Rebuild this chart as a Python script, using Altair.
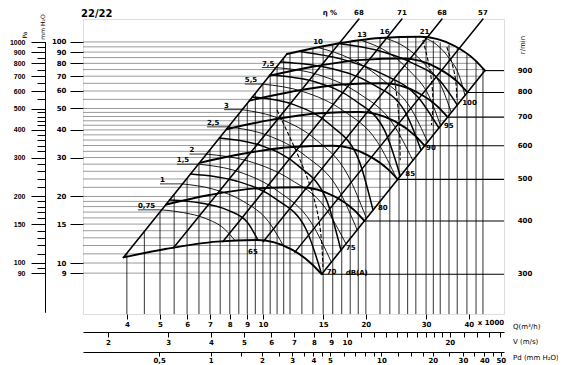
import json
import altair as alt
import numpy as np
import pandas as pd

FONT = "DejaVu Sans"

# ---------------- values ----------------
Q_DOMAIN = [2.977, 50.7]      # Q (x 1000 m3/h) at the plot frame
P_DOMAIN = [5.88, 127.0]      # static pressure mm H2O at the plot frame
PA_DOMAIN = [60.0, 1000.0]    # Pa scale (outer left axis)
V_DOMAIN = [1.69, 28.8]       # outlet velocity m/s
PD_DOMAIN = [0.179, 52.2]     # dynamic pressure mm H2O

P_LABELS = [9, 10, 15, 20, 30, 40, 50, 60, 70, 80, 90, 100]
P_GRID = [9, 10, 11, 12, 13, 14, 15, 16, 17, 18, 19, 20, 22, 24, 26, 28, 30, 32, 34,
          36, 38, 40, 42, 44, 46, 48, 50, 55, 60, 65, 70, 75, 80, 85, 90, 95, 100]
Q_LABELS = [4, 5, 6, 7, 8, 9, 10, 15, 20, 30, 40]
Q_GRID = [4, 4.5, 5, 5.5, 6, 6.5, 7, 7.5, 8, 8.5, 9, 9.5, 10, 10.5, 11, 11.5, 12, 13, 14,
          15, 16, 17, 18, 19, 20, 22, 23.5, 25, 26.5, 28, 30, 31.5, 33, 35, 37, 39.5, 42, 44]
PA_LABELS = [90, 100, 150, 200, 300, 400, 500, 600, 700, 800, 900, 1000]
PA_MINOR = [95, 110, 120, 130, 140, 160, 170, 180, 190, 220, 240, 260, 280, 320, 340, 360,
            380, 420, 440, 460, 480, 550, 650, 750, 850, 950]
V_LABELS = [2, 3, 4, 5, 6, 7, 8, 9, 10, 20]
V_MINOR = [11, 12, 13, 14, 15, 16, 17, 18, 19, 22, 24, 26, 28]
PD_LABELS = [0.5, 1, 2, 3, 4, 5, 10, 20, 30, 40, 50]
PD_MINOR = [1.5, 2.5, 3.5, 4.5, 6, 7, 8, 9, 12.5, 15, 17.5, 25, 35, 45]

# fan speed curves (r/min)
RPM = [300, 400, 500, 600, 700, 800, 900]
SPEED_Q = [
    [3.91, 5.23, 7.33, 9.59, 12.16, 13.89, 14.85],
    [5.22, 6.97, 9.77, 12.79, 16.21, 18.52, 19.8],
    [6.53, 8.73, 12.23, 16.01, 20.29, 23.19, 24.8],
    [7.83, 10.47, 14.67, 19.2, 24.34, 27.8, 29.74],
    [9.14, 12.21, 17.12, 22.41, 28.4, 32.44, 34.7],
    [10.45, 13.96, 19.56, 25.6, 32.45, 37.07, 39.65],
    [11.75, 15.7, 22.0, 28.8, 36.5, 41.7, 44.6],
]
SPEED_P = [
    [10.6, 11.6, 12.5, 12.7, 11.5, 9.9, 8.9],
    [18.4, 20.3, 21.8, 22.0, 20.0, 17.3, 15.5],
    [28.4, 31.2, 33.5, 33.9, 30.7, 26.6, 23.9],
    [40.3, 44.3, 47.6, 48.2, 43.7, 37.8, 33.9],
    [54.3, 59.7, 64.2, 65.0, 58.9, 51.0, 45.7],
    [70.3, 77.2, 83.0, 84.1, 76.2, 66.0, 59.1],
    [88.2, 96.9, 104.2, 105.5, 95.6, 82.8, 74.2],
]

# efficiency lines (eta %)
EFF_LABELS = ["68", "71", "68", "57"]
EFF_Q_TOP = [19.09, 25.5, 33.4, 44.0]
EFF_Q_BOT = [5.47, 7.64, 10.03, 12.4]
EFF_P_BOT = [11.7, 12.5, 12.5, 11.2]
ETA_Q = 15.7

# absorbed power curves (kW)
POWER_LABELS = ["0,75", "1", "1,5", "2", "2,5", "3", "5,5", "7,5", "10", "13", "16", "21"]
POWER_Q = [
    [5.06, 5.86, 6.80, 7.70, 8.3],
    [5.81, 7.14, 8.76, 10.38, 11.5],
    [6.47, 8.47, 11.08, 13.86, 15.85],
    [6.83, 9.07, 12.02, 15.2, 17.5],
    [7.9, 10.27, 13.33, 16.57, 18.87],
    [8.68, 11.17, 14.36, 17.71, 20.08],
    [9.96, 13.11, 17.2, 21.56, 24.7],
    [10.9, 14.43, 19.01, 23.91, 27.45],
    [14.5, 18.07, 22.55, 27.13, 30.3],
    [19.5, 22.86, 26.8, 30.6, 33.1],
    [22.7, 26.0, 29.72, 33.24, 35.55],
    [29.7, 32.27, 35.0, 37.45, 39.0],
]
POWER_P = [
    [17.4, 16.9, 15.9, 14.3, 12.6],
    [22.8, 21.6, 19.0, 15.4, 11.9],
    [28.0, 25.9, 21.1, 15.2, 10.1],
    [31.1, 28.9, 23.9, 17.8, 12.2],
    [41.3, 37.9, 30.5, 21.7, 14.1],
    [49.4, 45.0, 35.9, 25.0, 15.9],
    [64.5, 59.6, 48.8, 35.5, 23.8],
    [76.6, 71.3, 58.7, 43.0, 29.1],
    [94.3, 83.8, 66.9, 49.8, 35.3],
    [101.3, 91.1, 74.2, 56.9, 41.7],
    [104.3, 95.0, 79.4, 63.0, 48.0],
    [104.3, 97.0, 84.6, 70.7, 57.3],
]
POWER_TAG_Q = [4.31, 5.0, 5.6, 6.1, 6.86, 7.7, 8.85, 9.93]   # left-hand label leaders

# sound level curves dB(A)
DB_LABELS = ["65", "70", "75", "80", "85", "90", "95", "100"]
DB_Q = [
    [5.33, 6.57, 7.85, 9.0, 9.67],
    [6.14, 8.36, 10.9, 13.36, 14.85],
    [7.46, 9.93, 12.7, 15.32, 16.9],
    [9.31, 12.37, 15.8, 19.03, 20.98],
    [10.49, 14.26, 18.55, 22.7, 25.23],
    [11.26, 15.68, 20.84, 25.91, 29.0],
    [12.83, 16.99, 22.49, 28.43, 32.7],
    [16.8, 21.29, 26.98, 32.89, 37.0],
]
DB_P = [
    [19.3, 18.7, 17.4, 15.3, 12.7],
    [25.3, 23.5, 19.5, 14.25, 8.9],
    [36.8, 33.9, 27.5, 19.4, 11.45],
    [56.4, 51.9, 42.0, 29.5, 17.4],
    [70.9, 65.9, 54.5, 39.7, 24.7],
    [81.2, 76.1, 64.6, 49.0, 32.4],
    [90.6, 83.6, 71.3, 56.2, 40.8],
    [98.2, 92.1, 81.0, 66.9, 51.9],
]

# dashed companion curves near the right-hand side
DASH_Q = [
    [10.99, 13.45, 14.68, 14.98],
    [24.3, 25.0, 25.2],
    [29.37, 30.78, 31.41, 31.1],
    [34.5, 36.4, 36.9],
]
DASH_P = [
    [49.2, 24.5, 14.55, 9.59],
    [67.3, 44.4, 29.2],
    [102.1, 74.7, 54.6, 42.1],
    [94.9, 70.9, 54.6],
]

# ---------------- helpers ----------------
def sx():
    return alt.Scale(type="log", domain=Q_DOMAIN, nice=False)


def sy():
    return alt.Scale(type="log", domain=P_DOMAIN, nice=False)


def curves(names, qs, ps):
    rows = []
    for n, ql, pl in zip(names, qs, ps):
        for i, (q, p) in enumerate(zip(ql, pl)):
            rows.append({"id": n, "Q": q, "P": p, "o": i})
    return pd.DataFrame(rows)


def line_layer(df, width, interp="monotone", dash=None):
    kw = dict(color="black", strokeWidth=width, interpolate=interp, strokeCap="round")
    if dash:
        kw["strokeDash"] = dash
        kw["strokeCap"] = "butt"
    return alt.Chart(df).mark_line(**kw).encode(
        x=alt.X("Q:Q", scale=sx(), axis=None),
        y=alt.Y("P:Q", scale=sy(), axis=None),
        detail="id:N",
        order="o:Q",
    )


def text_layer(df, size=7, weight="bold", font=FONT, **kw):
    return alt.Chart(df).mark_text(font=font, fontSize=size, fontWeight=weight,
                                   color="black", **kw).encode(
        x=alt.X("Q:Q", scale=sx(), axis=None),
        y=alt.Y("P:Q", scale=sy(), axis=None),
        text="t:N",
    )


AX = dict(labelFont=FONT, labelFontSize=7, labelFontWeight="bold", labelColor="black",
          tickColor="black", domainColor="black", grid=False, title=None,
          labelOverlap=False, labelFlush=False)

lg = np.log10
upper_q = [SPEED_Q[0][0]] + SPEED_Q[-1]
upper_p = [SPEED_P[0][0]] + SPEED_P[-1]
right_q = [SPEED_Q[0][-1]] + SPEED_Q[-1][::-1][:4]
right_p = [SPEED_P[0][-1]] + SPEED_P[-1][::-1][:4]

hgrid_df = pd.DataFrame({
    "P": P_GRID, "x1": Q_DOMAIN[0],
    "x2": 10 ** np.interp(lg(P_GRID), lg(right_p), lg(right_q)),
})
vgrid_df = pd.DataFrame({
    "Q": Q_GRID, "y1": P_DOMAIN[0],
    "y2": 10 ** np.interp(lg(Q_GRID), lg(upper_q), lg(upper_p)),
})

hgrid = alt.Chart(hgrid_df).mark_rule(color="#707070", strokeWidth=0.7).encode(
    x=alt.X("x1:Q", scale=sx(), axis=None),
    x2="x2:Q",
    y=alt.Y("P:Q", scale=sy(), axis=alt.Axis(
        orient="left", values=P_LABELS, tickSize=13, labelPadding=4, domain=False,
        labelExpr="format(datum.value, 'd')", **AX)),
)
vgrid = alt.Chart(vgrid_df).mark_rule(color="black", strokeWidth=0.8).encode(
    x=alt.X("Q:Q", scale=sx(), axis=alt.Axis(
        orient="bottom", values=Q_LABELS, tickSize=5, labelPadding=1, domain=False,
        labelExpr="format(datum.value, 'd')", **AX)),
    y=alt.Y("y1:Q", scale=sy(), axis=None),
    y2="y2:Q",
)

# r/min lines to the right axis
rpm_df = pd.DataFrame({
    "P": [p[-1] for p in SPEED_P], "x1": [q[-1] for q in SPEED_Q],
    "x2": Q_DOMAIN[1], "Q": Q_DOMAIN[1], "t": [str(r) for r in RPM],
})
rpm_lines = alt.Chart(rpm_df).mark_rule(color="black", strokeWidth=1.1).encode(
    x=alt.X("x1:Q", scale=sx(), axis=None), x2="x2:Q",
    y=alt.Y("P:Q", scale=sy(), axis=None),
)
rpm_text = text_layer(rpm_df, align="center", baseline="middle", dx=21)

speed = line_layer(curves(RPM, SPEED_Q, SPEED_P), 1.9)
bounds = line_layer(curves(
    ["left", "right"],
    [[SPEED_Q[0][0], SPEED_Q[-1][0]], [SPEED_Q[0][-1], SPEED_Q[-1][-1]]],
    [[SPEED_P[0][0], SPEED_P[-1][0]], [SPEED_P[0][-1], SPEED_P[-1][-1]]]), 1.6, interp="linear")
power = line_layer(curves(POWER_LABELS, POWER_Q, POWER_P), 0.9)
sound = line_layer(curves(DB_LABELS, DB_Q, DB_P), 1.5)
dashed = line_layer(curves([f"d{i}" for i in range(len(DASH_Q))], DASH_Q, DASH_P), 1.1,
                    interp="natural", dash=[4, 2])
eff = line_layer(curves(
    [f"e{i}" for i in range(4)],
    [[a, b] for a, b in zip(EFF_Q_BOT, EFF_Q_TOP)],
    [[p, P_DOMAIN[1]] for p in EFF_P_BOT]), 1.5, interp="linear")

# power labels and leaders
n_left = len(POWER_TAG_Q)
lead_df = pd.DataFrame({
    "x1": POWER_TAG_Q, "x2": [q[0] for q in POWER_Q[:n_left]],
    "P": [p[0] for p in POWER_P[:n_left]],
})
leaders = alt.Chart(lead_df).mark_rule(color="black", strokeWidth=0.8).encode(
    x=alt.X("x1:Q", scale=sx(), axis=None), x2="x2:Q",
    y=alt.Y("P:Q", scale=sy(), axis=None),
)
plab_left = text_layer(pd.DataFrame({
    "Q": POWER_TAG_Q, "P": [p[0] for p in POWER_P[:n_left]], "t": POWER_LABELS[:n_left]}),
    align="left", baseline="bottom", dy=-1)
plab_top = text_layer(pd.DataFrame({
    "Q": [q[0] for q in POWER_Q[n_left:]], "P": [p[0] for p in POWER_P[n_left:]],
    "t": POWER_LABELS[n_left:]}), align="center", baseline="bottom", dy=-3)

# dB labels
db_df = pd.DataFrame({"Q": [q[-1] for q in DB_Q[1:]], "P": [p[-1] for p in DB_P[1:]],
                      "t": DB_LABELS[1:]})
dblab = text_layer(db_df, align="left", baseline="middle", dx=5, dy=-2)
db65 = text_layer(pd.DataFrame({"Q": [DB_Q[0][-1]], "P": [DB_P[0][-1]], "t": [DB_LABELS[0]]}),
                  align="center", baseline="middle", dx=-5, dy=12)
dba = text_layer(pd.DataFrame({"Q": [DB_Q[1][-1]], "P": [DB_P[1][-1]], "t": ["dB(A)"]}),
                 align="left", baseline="middle", dx=24, dy=-1)

# efficiency labels
efflab = text_layer(pd.DataFrame({"Q": EFF_Q_TOP + [ETA_Q], "P": P_DOMAIN[1],
                                  "t": EFF_LABELS + ["\u03b7  %"]}),
                    align="center", baseline="bottom", dy=-3)

# titles / annotations anchored to the frame corners
title = text_layer(pd.DataFrame({"Q": [Q_DOMAIN[0]], "P": [P_DOMAIN[1]], "t": ["22/22"]}),
                   size=10, align="left", baseline="middle", dx=-2, dy=-5)
x1000 = text_layer(pd.DataFrame({"Q": [40], "P": [P_DOMAIN[0]], "t": ["x 1000"]}),
                   align="left", baseline="middle", dx=9, dy=9)
unit_df = pd.DataFrame({"Q": Q_DOMAIN[1], "P": P_DOMAIN[0],
                        "t": ["Q(m\u00b3/h)", "V (m/s)", "Pd (mm H\u2082O)"],
                        "d": [13, 28, 44]})
units = [text_layer(unit_df.iloc[[i]], weight="normal", align="left", baseline="middle",
                    dx=9, dy=int(unit_df["d"][i])) for i in range(3)]
rmin = text_layer(pd.DataFrame({"Q": [Q_DOMAIN[1]], "P": [P_DOMAIN[1]], "t": ["r/min"]}),
                  weight="normal", angle=270, align="center", baseline="middle", dx=-26, dy=19)
mmh2o = text_layer(pd.DataFrame({"Q": [Q_DOMAIN[0]], "P": [P_DOMAIN[1]], "t": ["mm H\u2082O"]}),
                   size=6, weight="normal", angle=270, align="center", baseline="middle",
                   dx=-8, dy=-40)
pa_t = text_layer(pd.DataFrame({"Q": [Q_DOMAIN[0]], "P": [P_DOMAIN[1]], "t": ["Pa"]}),
                  size=6, weight="normal", angle=270, align="center", baseline="middle",
                  dx=-16, dy=-58)

# secondary axes
PA_AX = dict(AX)
PA_AX.update(labelFont="Liberation Sans", labelFontSize=7)
pa_scale = alt.Scale(type="log", domain=PA_DOMAIN, range=[293, 23], nice=False)
pa_major = alt.Chart(pd.DataFrame({"Pa": PA_LABELS})).mark_point(opacity=0).encode(
    y=alt.Y("Pa:Q", scale=pa_scale, axis=alt.Axis(
        orient="left", offset=38, values=PA_LABELS, tickSize=14, labelPadding=6,
        domain=True, labelExpr="format(datum.value, 'd')", **PA_AX)))
pa_minor = alt.Chart(pd.DataFrame({"Pa": PA_MINOR})).mark_point(opacity=0).encode(
    y=alt.Y("Pa:Q", scale=pa_scale, axis=alt.Axis(
        orient="left", offset=38, values=PA_MINOR, tickSize=8, labels=False,
        domain=True, **PA_AX)))

v_axis = alt.Chart(pd.DataFrame({"V": V_LABELS + V_MINOR})).mark_point(opacity=0).encode(
    x=alt.X("V:Q", scale=alt.Scale(type="log", domain=V_DOMAIN, nice=False), axis=alt.Axis(
        orient="bottom", offset=18, values=V_LABELS + V_MINOR, tickSize=5, labelPadding=1,
        domain=True,
        labelExpr="indexof(%s, datum.value) >= 0 ? format(datum.value, 'd') : ''"
        % json.dumps(V_LABELS), **AX)))
pd_axis = alt.Chart(pd.DataFrame({"D": PD_LABELS + PD_MINOR})).mark_point(opacity=0).encode(
    x=alt.X("D:Q", scale=alt.Scale(type="log", domain=PD_DOMAIN, nice=False), axis=alt.Axis(
        orient="bottom", offset=38, values=PD_LABELS + PD_MINOR, tickSize=4, labelPadding=0,
        domain=True,
        labelExpr="indexof(%s, datum.value) >= 0 ? replace('' + datum.value, '.', ',') : ''"
        % json.dumps(PD_LABELS), **AX)))

layers = [hgrid, vgrid, rpm_lines, power, sound, dashed, eff, bounds, speed, leaders,
          plab_left, plab_top, dblab, db65, dba, efflab, rpm_text, title, x1000,
          *units, rmin, mmh2o, pa_t, pa_major, pa_minor, v_axis, pd_axis]

chart = (
    alt.layer(*layers)
    .resolve_scale(x="independent", y="independent")
    .properties(width=421, height=295,
                padding={"left": 75, "top": 11, "right": 54, "bottom": 58},
                autosize=alt.AutoSizeParams(type="none"))
    .configure_view(stroke="black", strokeWidth=1.5)
    .configure(background="white")
)

chart.save("out.html", embed_options={"renderer": "svg", "actions": False})
